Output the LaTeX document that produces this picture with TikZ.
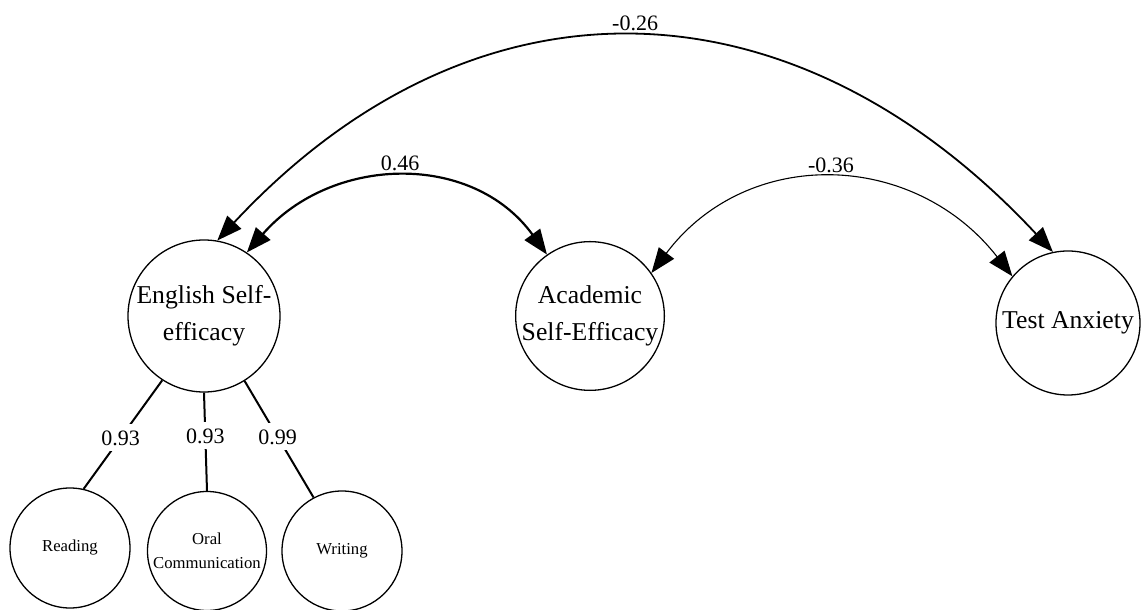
\documentclass[tikz,border=0pt]{standalone}
\usepackage{fontspec}
\setmainfont{Liberation Serif}
\usetikzlibrary{arrows.meta}

\begin{document}
\begin{tikzpicture}[x=0.5pt, y=0.5pt,
        latent/.style={draw, circle, line width=0.65pt, inner sep=0pt, minimum size=#1,
            align=center, font=\fontsize{12.85}{18.5}\selectfont},
        indicator/.style={draw, circle, line width=0.65pt, inner sep=0pt, minimum size=#1,
            align=center, font=\fontsize{8.35}{12}\selectfont},
        loading/.style={line width=1pt},
        coef/.style={font=\fontsize{11}{13}\selectfont, inner sep=3pt},
        corr/.style={<->, >={Triangle[length=12.5pt,width=9.5pt]}}
    ]

    \useasboundingbox (0,0) rectangle (1141,610);

    % latent factors
    \node[latent=76pt] (ese) at (204,294) {English Self-\\efficacy};
    \node[latent=73pt] (ase) at (590,294) {Academic\\Self-Efficacy};
    \node[latent=72pt] (ta) at (1068,287) {Test Anxiety};

    % indicators
    \node[indicator=60pt] (read) at (70,62) {Reading};
    \node[indicator=59.5pt] (oral) at (207,59) {Oral\\Communication};
    \node[indicator=60pt] (writ) at (342,59) {Writing};

    % loadings
    \draw[loading] (ese.237) -- node[coef, fill=white, pos=0.53] (l1) {0.93} (read.77);
    \draw[loading] (ese.270) -- node[coef, fill=white, pos=0.44] (l2) {0.93} (oral.90);
    \draw[loading] (ese.302) -- node[coef, fill=white, pos=0.48] (l3) {0.99} (writ.118);

    % correlations
    \draw[corr, line width=0.9pt] (ese.80) to[out=47, in=133, looseness=1.16]
        node[coef, above] (r1) {-0.26} (ta.102);
    \draw[corr, line width=1.1pt] (ese.56) to[out=49, in=126, looseness=1.09]
        node[coef, above] (r2) {0.46} (ase.125);
    \draw[corr, line width=0.55pt] (ase.35) to[out=53, in=128, looseness=1.13]
        node[coef, above] (r3) {-0.36} (ta.140);

\end{tikzpicture}
\end{document}
